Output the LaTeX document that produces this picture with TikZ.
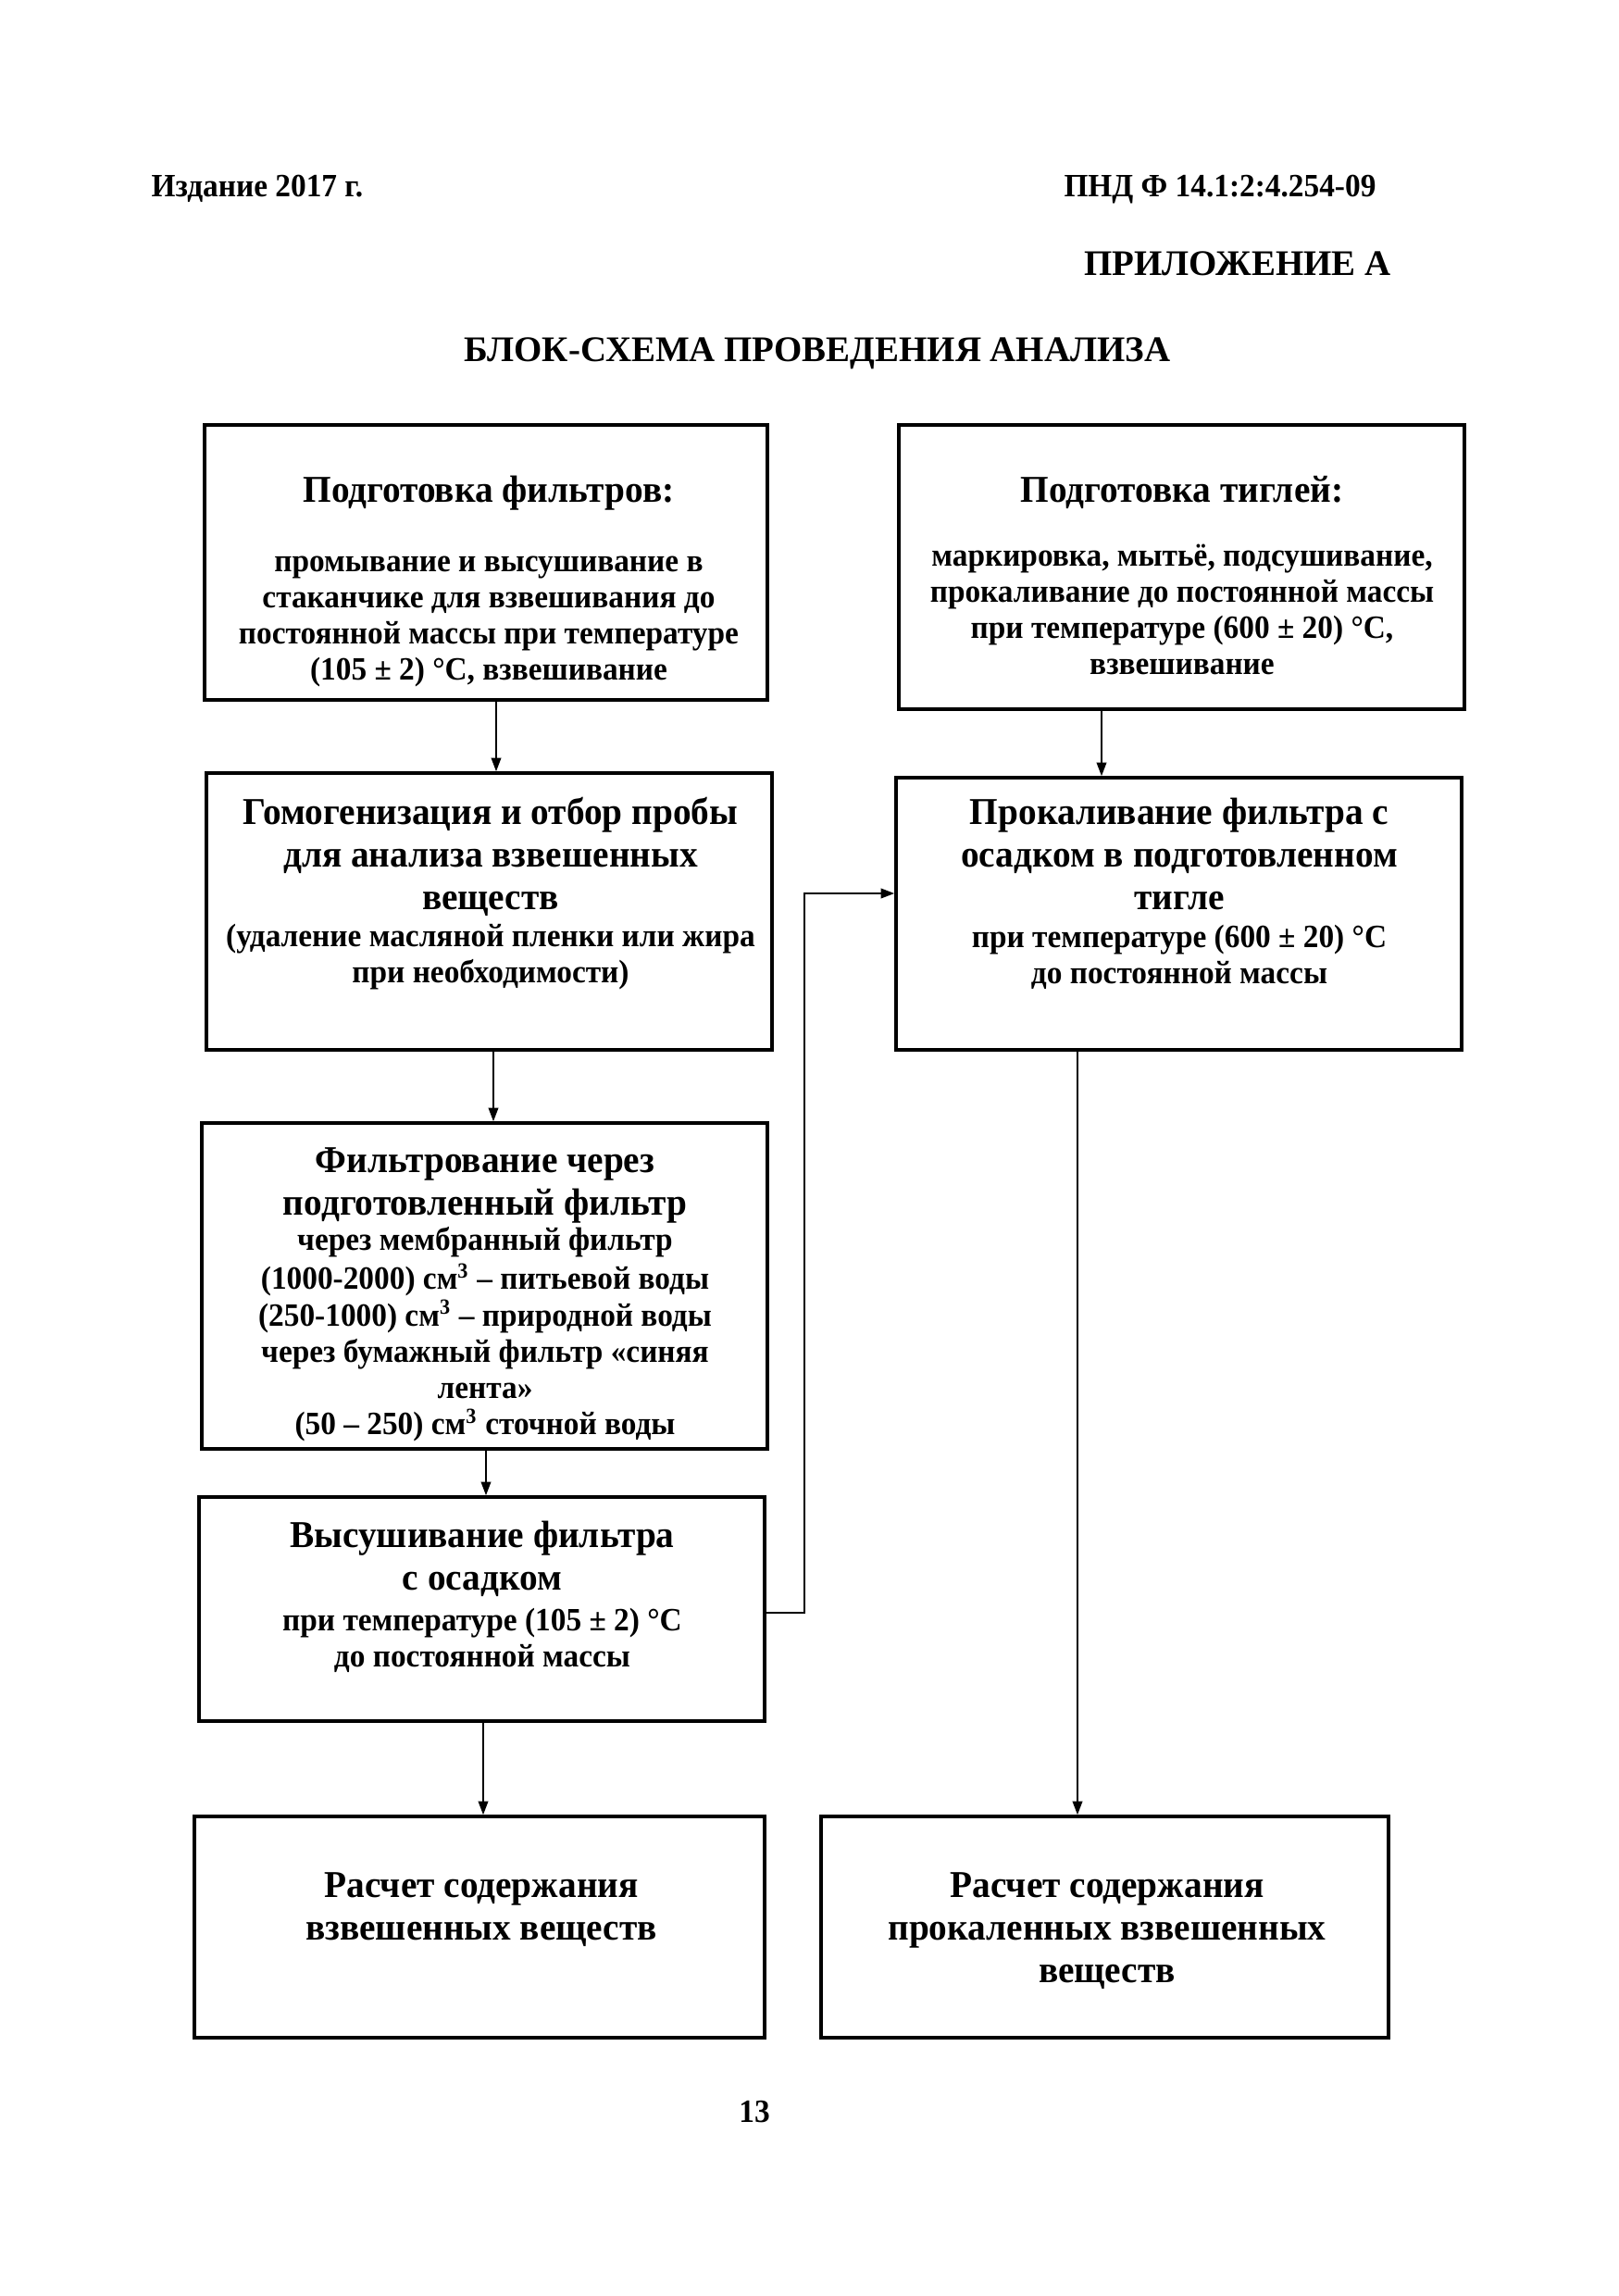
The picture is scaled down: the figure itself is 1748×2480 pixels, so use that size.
\documentclass[tikz,border=0pt]{standalone}
\usepackage{fontspec}
\setmainfont{Liberation Serif}
\newfontfamily\cndA{Liberation Serif}[FakeStretch=0.96]
\newfontfamily\cndB{Liberation Serif}[FakeStretch=0.95]
\usetikzlibrary{arrows.meta,fit}
\begin{document}
\begin{tikzpicture}[x=0.12013mm,y=-0.12013mm,
 box/.style={draw,line width=1.2pt,inner sep=0pt},
 ttl/.style={anchor=north,align=center,inner sep=0pt,font=\cndA\bfseries\fontsize{14}{15.7}\selectfont},
 bod/.style={anchor=north,align=center,inner sep=0pt,font=\cndB\bfseries\fontsize{12}{13.4}\selectfont},
 arr/.style={line width=0.7pt,-{Triangle[length=5pt,width=3.6pt]}},
 hdr/.style={inner sep=0pt,font=\cndB\bfseries\fontsize{12}{14}\selectfont},
 big/.style={inner sep=0pt,font=\bfseries\fontsize{13.3}{15}\selectfont}]
\useasboundingbox[fill=white] (0,0) rectangle (1748,2480);

% header
\node[hdr,anchor=base west] (h1) at (163,212) {Издание 2017 г.};
\node[hdr,anchor=base east] (h2) at (1487,212) {ПНД Ф 14.1:2:4.254-09};
\node[big,anchor=base east] (h3) at (1503,297) {ПРИЛОЖЕНИЕ А};
\node[big,anchor=base] (h4) at (883,390) {БЛОК-СХЕМА ПРОВЕДЕНИЯ АНАЛИЗА};

% boxes
\node[box,fit={(221,459) (829,756)}] (b1) {};
\node[box,fit={(971,459) (1582,766)}] (b2) {};
\node[box,fit={(223,835) (834,1134)}] (b3) {};
\node[box,fit={(968,840) (1579,1134)}] (b4) {};
\node[box,fit={(218,1213) (829,1565)}] (b5) {};
\node[box,fit={(215,1617) (826,1859)}] (b6) {};
\node[box,fit={(210,1962) (826,2201)}] (b7) {};
\node[box,fit={(887,1962) (1500,2201)}] (b8) {};

% texts
\node[ttl] (t1) at (528,510) {\strut Подготовка фильтров:};
\node[bod] (s1) at (528,589) {\strut промывание и высушивание в\\стаканчике для взвешивания до\\постоянной массы при температуре\\(105 ± 2) °С, взвешивание};

\node[ttl] (t2) at (1277,510) {\strut Подготовка тиглей:};
\node[bod] (s2) at (1277,583) {\strut маркировка, мытьё, подсушивание,\\прокаливание до постоянной массы\\при температуре (600 ± 20) °С,\\взвешивание};

\node[ttl] (t3) at (530,858) {\strut Гомогенизация и отбор пробы\\для анализа взвешенных\\веществ};
\node[bod] (s3) at (530,994) {\strut (удаление масляной пленки или жира\\при необходимости)};

\node[ttl] (t4) at (1274,858) {\strut Прокаливание фильтра с\\осадком в подготовленном\\тигле};
\node[bod] (s4) at (1274,995) {\strut при температуре (600 ± 20) °С\\до постоянной массы};

\node[ttl] (t5) at (524,1234) {\strut Фильтрование через\\подготовленный фильтр};
\node[bod] (s5) at (524,1322) {\strut через мембранный фильтр\\(1000-2000) см\textsuperscript{3} – питьевой воды\\(250-1000) см\textsuperscript{3} – природной воды\\через бумажный фильтр «синяя\\лента»\\(50 – 250) см\textsuperscript{3} сточной воды};

\node[ttl] (t6) at (521,1639) {\strut Высушивание фильтра\\с осадком};
\node[bod] (s6) at (521,1733) {\strut при температуре (105 ± 2) °С\\до постоянной массы};

\node[ttl] (t7) at (520,2017) {\strut Расчет содержания\\взвешенных веществ};
\node[ttl] (t8) at (1196,2017) {\strut Расчет содержания\\прокаленных взвешенных\\веществ};

\node[hdr,anchor=base] (pg) at (815,2292) {13};

% connectors
\coordinate (x1) at (536,0);
\coordinate (x2) at (1190,0);
\coordinate (x3) at (533,0);
\coordinate (x4) at (525,0);
\coordinate (x5) at (522,0);
\coordinate (x6) at (1164,0);
\coordinate (j1) at (869,1742);
\coordinate (j2) at (869,965);
\draw[arr] (b1.south -| x1) -- (b3.north -| x1);
\draw[arr] (b2.south -| x2) -- (b4.north -| x2);
\draw[arr] (b3.south -| x3) -- (b5.north -| x3);
\draw[arr] (b5.south -| x4) -- (b6.north -| x4);
\draw[arr] (b6.south -| x5) -- (b7.north -| x5);
\draw[arr] (b4.south -| x6) -- (b8.north -| x6);
\draw[arr] (b6.east |- j1) -- (j1) -- (j2) -- (b4.west |- j2);
\end{tikzpicture}
\end{document}
